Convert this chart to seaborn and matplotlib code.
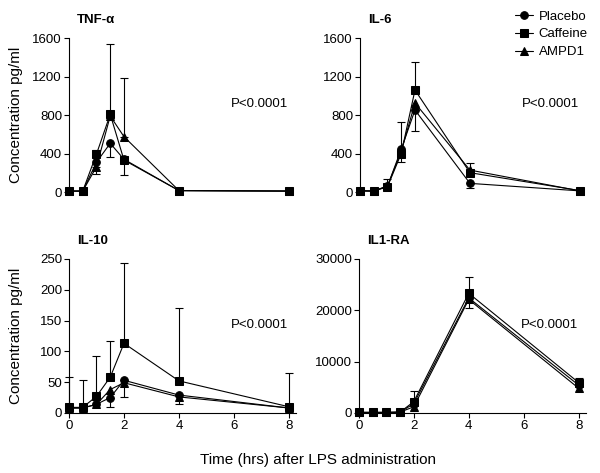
import numpy as np
import pandas as pd
import matplotlib
matplotlib.use("Agg")
import matplotlib.pyplot as plt
import seaborn as sns

# time points (hrs after LPS)
times = [0, 0.5, 1, 1.5, 2, 4, 8]
groups = ["Placebo", "Caffeine", "AMPD1"]

# group means
tnf_placebo = [10, 10, 310, 506, 340, 15, 10]
tnf_caffeine = [10, 10, 395, 807, 332, 15, 10]
tnf_ampd1 = [10, 10, 263, 790, 575, 15, 10]

il6_placebo = [12, 10, 60, 445, 852, 90, 12]
il6_caffeine = [15, 10, 55, 400, 1060, 201, 15]
il6_ampd1 = [12, 10, 65, 420, 925, 228, 12]

il10_placebo = [8, 8, 14, 25, 53, 29, 8]
il10_caffeine = [9, 9, 27, 58, 113, 52, 10]
il10_ampd1 = [8, 8, 14, 38, 49, 26, 8]

il1ra_placebo = [100, 100, 100, 150, 1800, 22400, 5400]
il1ra_caffeine = [100, 100, 100, 150, 2200, 23300, 5900]
il1ra_ampd1 = [100, 100, 100, 150, 1200, 22100, 4800]

# one-sided error bars (upper / lower length), 0 = not shown
tnf_caffeine_up = [0, 0, 41, 731, 0, 0, 0]
tnf_caffeine_lo = [0, 0, 0, 0, 152, 0, 0]
tnf_placebo_lo = [0, 0, 0, 139, 0, 0, 0]
tnf_ampd1_lo = [0, 0, 76, 0, 0, 0, 0]
tnf_ampd1_up = [0, 0, 0, 0, 613, 0, 0]

il6_caffeine_up = [25, 0, 77, 331, 294, 104, 0]
il6_placebo_lo = [0, 0, 0, 135, 220, 45, 0]

il10_caffeine_up = [50, 45, 65, 59, 131, 119, 55]
il10_placebo_lo = [0, 0, 0, 15, 27, 15, 0]

il1ra_caffeine_up = [0, 0, 0, 0, 2100, 3130, 980]
il1ra_placebo_lo = [0, 0, 0, 0, 0, 1880, 0]

markers = {"Placebo": "o", "Caffeine": "s", "AMPD1": "^"}
msizes = {"o": 5.5, "s": 6.2, "^": 6.0}

sns.set_style("ticks")
plt.rcParams["font.family"] = ["Liberation Sans", "DejaVu Sans"]
plt.rcParams["axes.linewidth"] = 0.8
for key in ["text.color", "axes.labelcolor", "xtick.color", "ytick.color", "axes.edgecolor"]:
    plt.rcParams[key] = "black"


def long_df(placebo, caffeine, ampd1):
    rows = []
    for g, vals in zip(groups, [placebo, caffeine, ampd1]):
        for t, v in zip(times, vals):
            rows.append({"time": t, "value": v, "group": g})
    return pd.DataFrame(rows)


def add_err(ax, means, lo=None, up=None):
    lo = lo if lo is not None else [0] * len(times)
    up = up if up is not None else [0] * len(times)
    keep = [i for i in range(len(times)) if lo[i] > 0 or up[i] > 0]
    if not keep:
        return
    ax.errorbar([times[i] for i in keep], [means[i] for i in keep],
                yerr=[[lo[i] for i in keep], [up[i] for i in keep]],
                fmt="none", ecolor="black", elinewidth=0.8, capsize=3,
                capthick=0.8, zorder=1, clip_on=False)


def draw_panel(ax, df, title, ymax, yticks, bottom_axis, legend=False):
    sns.lineplot(data=df, x="time", y="value", style="group", markers=markers,
                 dashes=False, color="black", linewidth=0.8, markeredgecolor="black",
                 ax=ax, legend=legend, zorder=3, clip_on=False)
    for ln in ax.lines:
        m = ln.get_marker()
        if m in msizes:
            ln.set_markersize(msizes[m])
    ax.set_xlim(0, 8.25)
    ax.set_ylim(0, ymax)
    ax.set_yticks(yticks)
    ax.set_xlabel("")
    ax.set_ylabel("")
    sns.despine(ax=ax)
    ax.tick_params(axis="both", labelsize=9.5, length=3.5, width=0.8, pad=1.5,
                   colors="black")
    if bottom_axis:
        ax.set_xticks([0, 2, 4, 6, 8])
    else:
        ax.spines["bottom"].set_visible(False)
        ax.set_xticks([])
    ax.text(0.035, 1.115, title, transform=ax.transAxes, fontsize=9.5,
            fontweight="bold", ha="left", va="center")
    ax.text(0.965, 0.57, "P<0.0001", transform=ax.transAxes, fontsize=9.5,
            ha="right", va="center")


fig = plt.figure(figsize=(6.0, 4.73), dpi=100)
w, h = 0.378, 0.3256
ax_tnf = fig.add_axes([0.115, 0.594, w, h])
ax_il6 = fig.add_axes([0.600, 0.594, w, h])
ax_il10 = fig.add_axes([0.115, 0.127, w, h])
ax_il1ra = fig.add_axes([0.598, 0.127, w, h])

draw_panel(ax_tnf, long_df(tnf_placebo, tnf_caffeine, tnf_ampd1), "TNF-α",
           1600, [0, 400, 800, 1200, 1600], False)
add_err(ax_tnf, tnf_caffeine, tnf_caffeine_lo, tnf_caffeine_up)
add_err(ax_tnf, tnf_placebo, tnf_placebo_lo, None)
add_err(ax_tnf, tnf_ampd1, tnf_ampd1_lo, tnf_ampd1_up)

draw_panel(ax_il6, long_df(il6_placebo, il6_caffeine, il6_ampd1), "IL-6",
           1600, [0, 400, 800, 1200, 1600], False, legend=True)
add_err(ax_il6, il6_caffeine, None, il6_caffeine_up)
add_err(ax_il6, il6_placebo, il6_placebo_lo, None)

draw_panel(ax_il10, long_df(il10_placebo, il10_caffeine, il10_ampd1), "IL-10",
           250, [0, 50, 100, 150, 200, 250], True)
add_err(ax_il10, il10_caffeine, None, il10_caffeine_up)
add_err(ax_il10, il10_placebo, il10_placebo_lo, None)

draw_panel(ax_il1ra, long_df(il1ra_placebo, il1ra_caffeine, il1ra_ampd1), "IL1-RA",
           30000, [0, 10000, 20000, 30000], True)
add_err(ax_il1ra, il1ra_caffeine, None, il1ra_caffeine_up)
add_err(ax_il1ra, il1ra_placebo, il1ra_placebo_lo, None)

# shared legend in the top right corner
handles, labels = ax_il6.get_legend_handles_labels()
ax_il6.get_legend().remove()
fig.legend(handles, labels, loc="upper left", bbox_to_anchor=(0.859, 0.978),
           frameon=False, fontsize=9.5, handlelength=1.3, handletextpad=0.45,
           labelspacing=0.42, borderpad=0, borderaxespad=0)

for ax in (ax_tnf, ax_il10):
    ax.set_ylabel("Concentration pg/ml", fontsize=11)
    ax.yaxis.set_label_coords(-0.205, 0.5)

fig.text(0.53, 0.027, "Time (hrs) after LPS administration", fontsize=11,
         ha="center", va="center")

fig.savefig("out.png", dpi=100)
